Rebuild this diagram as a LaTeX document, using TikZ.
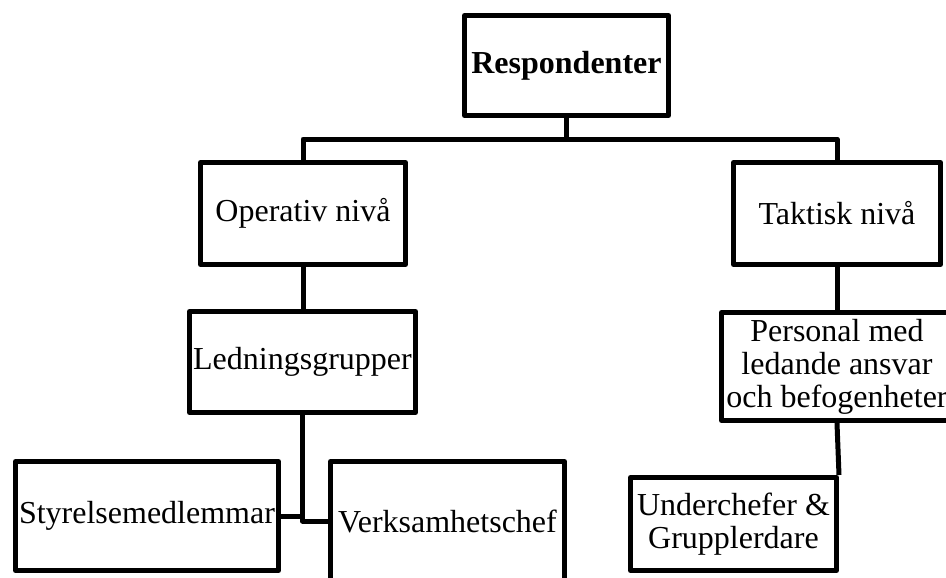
\documentclass[tikz,border=0pt]{standalone}
\usepackage{fontspec}
\setmainfont{Liberation Serif}
\begin{document}
\begin{tikzpicture}[x=1pt,y=-1pt,
  line width=5pt, line join=round,
  orgbox/.style={draw, rectangle, inner sep=0pt, align=center,
    font=\fontsize{32}{33}\selectfont},
  link/.style={draw, line width=5pt}]
\useasboundingbox (0,0) rectangle (946,578);

% top level
\node[orgbox, minimum width=204pt, minimum height=100pt] (resp) at (566.5,65.5) {\textbf{Respondenter}};

% second level
\node[orgbox, minimum width=205pt, minimum height=102pt] (op) at (303,213.5) {Operativ nivå};
\node[orgbox, minimum width=207pt, minimum height=102pt] (tak) at (837,213.5) {Taktisk nivå};

% third level
\node[orgbox, minimum width=226pt, minimum height=101pt] (led) at (302.5,362) {Ledningsgrupper};
\node[orgbox, minimum width=231pt, minimum height=108pt] (pers) at (837,366.5) {Personal med\\ledande ansvar\\och befogenheter};

% fourth level
\node[orgbox, minimum width=263pt, minimum height=109pt] (sty) at (147,516) {Styrelsemedlemmar};
\node[orgbox, minimum width=234pt, minimum height=119pt] (verk) at (447.5,521) {Verksamhetschef};
\node[orgbox, minimum width=206pt, minimum height=93pt] (und) at (733.5,524) {Underchefer \&\\Grupplerdare};

% connectors
\coordinate (bus) at (0,139);
\draw[link] (resp.south) -- (resp.south |- bus);
\draw[link] (op.north) -- (op.north |- bus) -- (tak.north |- bus) -- (tak.north);
\draw[link] (op.south) -- (op.south |- led.north);
\draw[link] (led.south) |- (verk.west);
\draw[link] (sty.east) -- (sty.east -| led.south);
\draw[link] (tak.south) -- (pers.north);
\draw[link] (pers.south) -- (und.north east);
\end{tikzpicture}
\end{document}
